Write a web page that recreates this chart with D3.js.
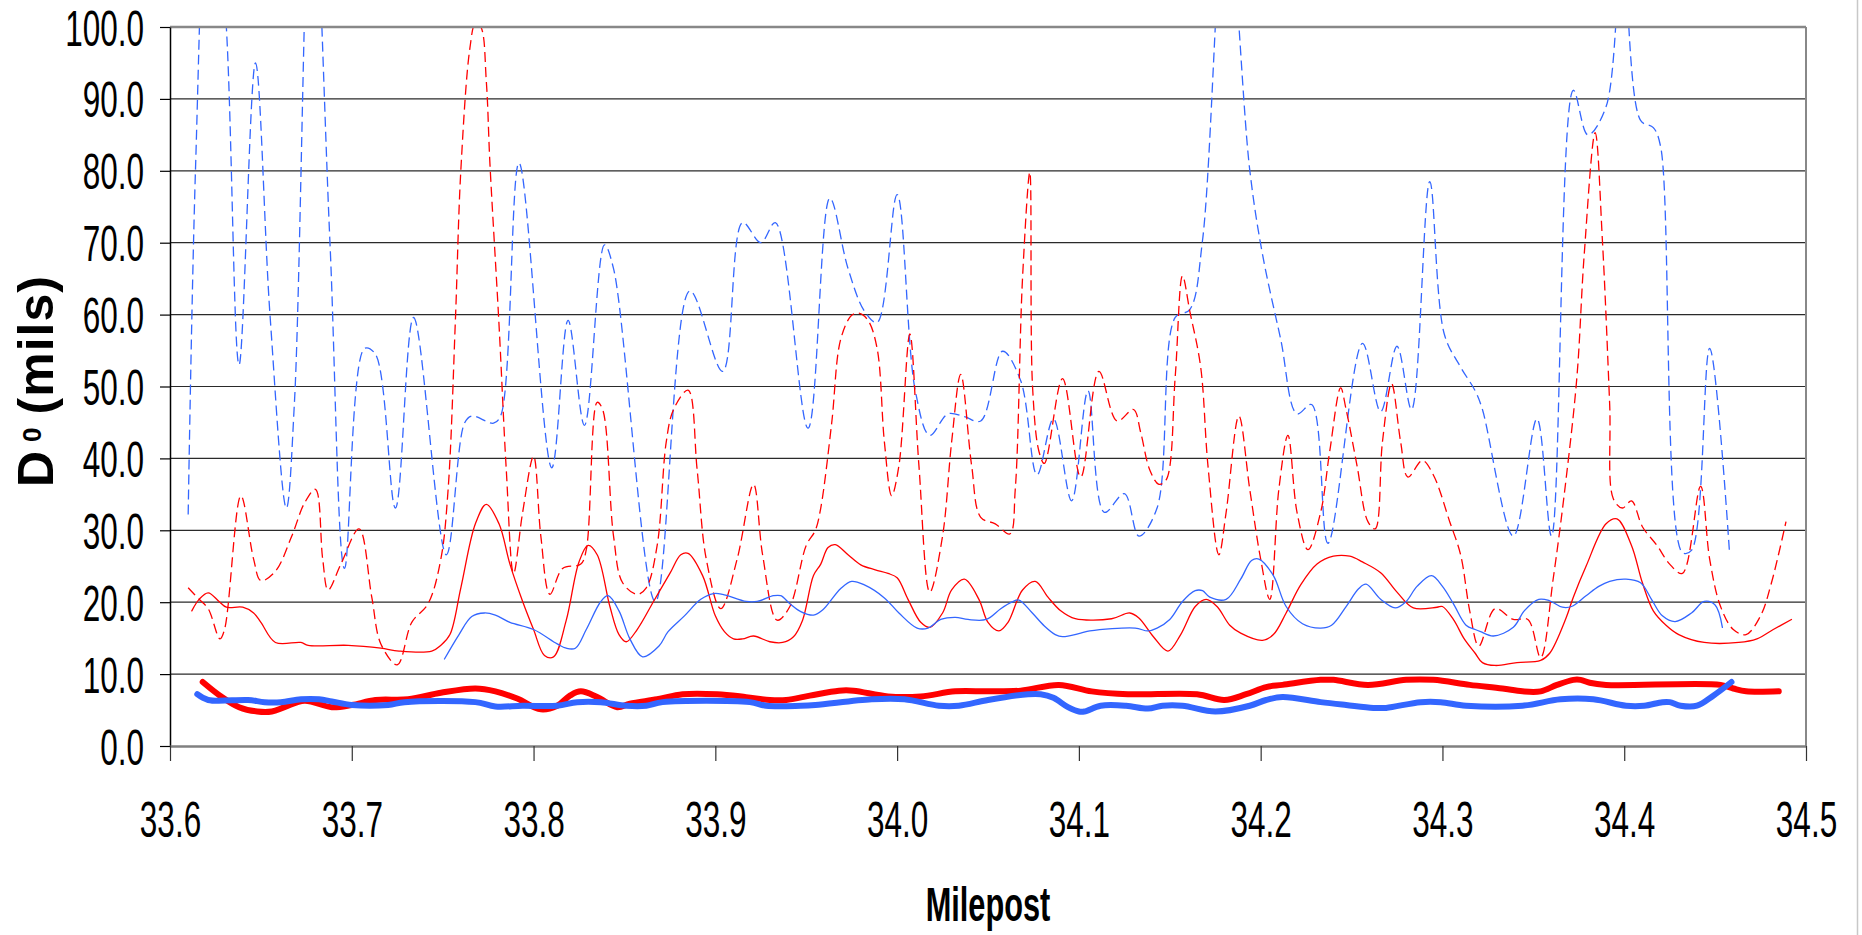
<!DOCTYPE html>
<html>
<head>
<meta charset="utf-8">
<script src="https://cdn.jsdelivr.net/npm/d3@7"></script>
<style>
    body { margin: 0; background: #fff; }
    text { font-family: "Liberation Sans", Arial, sans-serif; fill: #000; }
</style>
</head>
<body>
<div id="chart"></div>
<script>
// D0 deflection readings along the milepost, [milepost, mils]
const blueDashed = [[33.610,32.2],[33.614,80],[33.622,130],[33.631,100],[33.638,53.0],[33.647,95.0],[33.655,60],[33.664,33.1],[33.6685,48],[33.678,125],[33.688,70],[33.696,24.7],[33.707,55.3],[33.713,54.5],[33.724,33.1],[33.734,59.6],[33.752,26.6],[33.762,44.9],[33.766,45.9],[33.778,44.9],[33.782,46],[33.792,81.1],[33.810,38.7],[33.819,59.2],[33.828,44.6],[33.839,69.7],[33.844,66.4],[33.867,20.1],[33.886,63.3],[33.904,52.1],[33.915,72.8],[33.925,70.0],[33.933,72.8],[33.951,44.2],[33.963,76.2],[33.973,66.4],[33.982,60.5],[33.989,58.9],[34.000,76.7],[34.010,49.4],[34.018,43.2],[34.028,46.2],[34.037,45.8],[34.046,45.2],[34.058,54.9],[34.068,50.8],[34.077,37.7],[34.086,45.5],[34.096,34.1],[34.105,49.4],[34.114,32.5],[34.125,35.1],[34.133,29.2],[34.143,33.1],[34.153,59.6],[34.161,60.7],[34.168,70.3],[34.181,118],[34.194,80.1],[34.201,68.4],[34.211,56.6],[34.220,46.2],[34.228,47.5],[34.237,28.2],[34.256,56.0],[34.266,46.5],[34.275,55.6],[34.283,46.8],[34.293,78.5],[34.301,57.3],[34.310,52.7],[34.318,49.4],[34.322,46.8],[34.339,29.2],[34.352,45.5],[34.360,29.2],[34.372,91.2],[34.380,85.0],[34.390,88.9],[34.399,110],[34.409,87.0],[34.416,86.0],[34.420,83.4],[34.432,26.9],[34.437,27.2],[34.447,55.3],[34.458,26.6]];

const redDashed = [[33.610,22.0],[33.616,20.4],[33.621,19.1],[33.6275,14.9],[33.630,16.2],[33.639,34.8],[33.646,26.0],[33.650,23.0],[33.658,24.3],[33.667,29.2],[33.674,33.8],[33.680,35.7],[33.684,26.0],[33.687,21.7],[33.694,25.3],[33.704,30.2],[33.711,20.7],[33.716,14.2],[33.725,11.3],[33.733,17.2],[33.742,19.8],[33.749,26.0],[33.753,35.7],[33.757,59.2],[33.760,80.1],[33.765,97.1],[33.768,100.5],[33.771,100],[33.774,92.5],[33.776,81],[33.781,58.6],[33.785,38.4],[33.789,24.0],[33.794,32.5],[33.800,40.3],[33.804,29.2],[33.809,21.1],[33.816,24.7],[33.826,25.3],[33.829,27.3],[33.835,47.8],[33.838,46.8],[33.844,29.2],[33.849,22.7],[33.857,21.1],[33.862,22.0],[33.868,27.9],[33.873,42.3],[33.877,46.8],[33.885,49.5],[33.890,38.4],[33.895,26.0],[33.903,19.1],[33.912,26.0],[33.921,36.4],[33.926,26.6],[33.934,17.5],[33.941,19.4],[33.950,27.9],[33.955,30],[33.958,33.1],[33.964,44.9],[33.969,56.6],[33.975,59.9],[33.979,60.2],[33.984,59.2],[33.989,55.3],[33.993,42.3],[33.997,34.8],[34.001,39.0],[34.007,57.3],[34.012,39.0],[34.018,21.4],[34.025,29.2],[34.030,42.3],[34.035,51.7],[34.041,39.0],[34.046,31.8],[34.054,30.9],[34.062,29.5],[34.065,35.7],[34.069,65.1],[34.073,79.8],[34.0745,50],[34.078,41.0],[34.081,39.3],[34.091,51.1],[34.101,37.4],[34.111,52.1],[34.121,45.2],[34.130,46.8],[34.134,43.6],[34.139,38.4],[34.144,36.4],[34.148,37],[34.153,51.4],[34.157,65.4],[34.161,60.5],[34.167,52.7],[34.171,39.0],[34.177,26.6],[34.181,32.5],[34.188,45.9],[34.194,35.7],[34.200,26.0],[34.205,20.4],[34.210,35.7],[34.215,43.2],[34.220,32.5],[34.226,27.3],[34.233,32.5],[34.238,41.0],[34.244,49.8],[34.247,46.8],[34.253,39.0],[34.259,31.2],[34.263,30.2],[34.267,42.3],[34.272,50.4],[34.277,42.3],[34.281,37.4],[34.289,39.7],[34.295,37.7],[34.304,31.2],[34.310,26.6],[34.315,18.8],[34.320,13.9],[34.329,19.1],[34.339,17.6],[34.347,17.6],[34.354,12.3],[34.361,23.4],[34.368,37.1],[34.374,51.4],[34.378,68.4],[34.384,85.3],[34.388,70.3],[34.392,47.5],[34.394,34.4],[34.399,33.1],[34.404,34.1],[34.410,30.5],[34.418,27.9],[34.425,25.3],[34.432,24.0],[34.442,36.1],[34.447,26.0],[34.453,19.4],[34.460,16.2],[34.467,15.5],[34.475,18.1],[34.481,22.7],[34.489,31.2]];

const redSolid = [[33.612,18.8],[33.616,20.4],[33.621,21.3],[33.627,20.1],[33.631,19.3],[33.640,19.3],[33.646,18.5],[33.650,17.2],[33.658,14.4],[33.672,14.4],[33.676,14.0],[33.698,14.0],[33.716,13.6],[33.726,13.2],[33.744,13.2],[33.749,14.0],[33.754,15.5],[33.760,22.0],[33.768,30.9],[33.774,33.6],[33.781,30.9],[33.787,25.3],[33.794,20.1],[33.800,16.2],[33.806,12.6],[33.811,12.4],[33.818,17.5],[33.825,25.6],[33.830,27.9],[33.835,26.6],[33.842,19.4],[33.847,15.5],[33.851,14.5],[33.857,16.2],[33.866,20.1],[33.875,24.0],[33.881,26.6],[33.885,26.8],[33.893,23.7],[33.900,18.1],[33.905,15.9],[33.910,14.9],[33.915,14.9],[33.921,15.3],[33.930,14.5],[33.937,14.4],[33.943,15.2],[33.948,17.5],[33.954,23.7],[33.958,25.3],[33.962,27.6],[33.966,28.0],[33.973,26.6],[33.980,25.2],[33.988,24.5],[33.995,24.0],[34.000,23.4],[34.006,20.4],[34.013,17.2],[34.018,16.5],[34.025,18.5],[34.030,21.7],[34.037,23.2],[34.045,20.4],[34.050,17.2],[34.056,16.0],[34.061,17.2],[34.069,21.7],[34.076,22.9],[34.083,20.7],[34.090,18.8],[34.098,17.7],[34.118,17.7],[34.128,18.5],[34.133,17.8],[34.141,15.2],[34.149,13.2],[34.156,15.5],[34.164,19.4],[34.170,20.4],[34.176,19.4],[34.183,16.8],[34.189,15.7],[34.201,14.7],[34.207,15.5],[34.214,18.5],[34.222,22.4],[34.231,25.3],[34.240,26.4],[34.249,26.4],[34.256,25.6],[34.266,24.1],[34.275,21.4],[34.284,19.2],[34.297,19.3],[34.300,19.4],[34.306,17.6],[34.312,14.9],[34.318,12.9],[34.322,11.6],[34.329,11.2],[34.341,11.6],[34.354,11.9],[34.359,12.9],[34.368,17.8],[34.372,20.7],[34.379,25.0],[34.390,30.9],[34.396,31.6],[34.404,27.9],[34.410,22.7],[34.416,18.8],[34.423,16.8],[34.430,15.5],[34.444,14.4],[34.463,14.4],[34.473,14.9],[34.482,16.2],[34.492,17.6]];

const blueSolid = [[33.751,12.1],[33.759,15.5],[33.766,18.0],[33.773,18.5],[33.779,18.2],[33.787,17.2],[33.800,16.2],[33.813,14.2],[33.818,13.6],[33.823,13.6],[33.829,16.2],[33.837,20.1],[33.841,20.9],[33.847,18.8],[33.853,14.9],[33.860,12.4],[33.869,13.9],[33.874,15.9],[33.883,18.1],[33.892,20.4],[33.899,21.2],[33.904,21.1],[33.917,20.1],[33.923,20.1],[33.932,20.9],[33.936,20.9],[33.941,19.8],[33.947,18.7],[33.954,18.2],[33.959,18.9],[33.969,21.9],[33.975,22.9],[33.982,22.4],[33.993,20.6],[34.001,18.5],[34.011,16.4],[34.017,16.4],[34.024,17.6],[34.032,17.9],[34.039,17.6],[34.049,17.6],[34.057,19.1],[34.063,20.0],[34.067,20.3],[34.074,18.6],[34.081,16.7],[34.087,15.5],[34.091,15.2],[34.101,15.7],[34.106,16.0],[34.131,16.4],[34.138,16.0],[34.143,16.4],[34.150,17.6],[34.157,20.1],[34.164,21.6],[34.168,21.6],[34.172,20.7],[34.181,20.4],[34.189,23.2],[34.195,25.8],[34.199,26.0],[34.207,23.7],[34.214,19.4],[34.223,17.0],[34.233,16.4],[34.239,16.8],[34.247,19.4],[34.254,21.9],[34.258,22.5],[34.266,20.4],[34.274,19.2],[34.280,20.1],[34.286,22.2],[34.294,23.7],[34.300,22.2],[34.306,19.8],[34.313,16.8],[34.318,16.2],[34.321,15.9],[34.328,15.3],[34.339,16.5],[34.345,18.8],[34.353,20.4],[34.359,20.2],[34.366,19.3],[34.371,19.4],[34.379,20.9],[34.386,22.2],[34.392,22.9],[34.401,23.2],[34.409,22.7],[34.415,20.4],[34.421,18.1],[34.428,17.3],[34.437,18.5],[34.444,20.1],[34.450,19.6],[34.454,16.5]];

const redThick = [[33.618,8.9],[33.6275,7.0],[33.638,5.4],[33.648,4.8],[33.656,4.8],[33.663,5.4],[33.674,6.3],[33.689,5.4],[33.700,5.7],[33.713,6.4],[33.731,6.5],[33.749,7.4],[33.768,8.0],[33.779,7.6],[33.791,6.6],[33.804,5.1],[33.813,5.6],[33.820,7.0],[33.826,7.6],[33.835,6.8],[33.846,5.4],[33.853,5.9],[33.868,6.5],[33.882,7.2],[33.901,7.2],[33.917,6.8],[33.930,6.4],[33.939,6.4],[33.952,7.0],[33.968,7.7],[33.976,7.7],[33.995,6.9],[34.013,6.9],[34.032,7.6],[34.050,7.6],[34.068,7.7],[34.089,8.5],[34.107,7.6],[34.127,7.2],[34.165,7.2],[34.180,6.4],[34.192,7.2],[34.203,8.2],[34.212,8.5],[34.233,9.2],[34.240,9.2],[34.259,8.5],[34.280,9.2],[34.295,9.2],[34.315,8.5],[34.333,8.0],[34.344,7.6],[34.354,7.6],[34.363,8.5],[34.372,9.2],[34.376,9.2],[34.381,8.8],[34.390,8.5],[34.453,8.5],[34.460,8.0],[34.467,7.6],[34.485,7.6]];

const blueThick = [[33.615,7.2],[33.621,6.4],[33.643,6.4],[33.652,6.1],[33.661,6.1],[33.672,6.5],[33.682,6.5],[33.689,6.2],[33.700,5.7],[33.720,5.7],[33.729,6.1],[33.768,6.1],[33.779,5.5],[33.794,5.6],[33.813,5.6],[33.824,6.1],[33.837,6.1],[33.851,5.6],[33.862,5.6],[33.871,6.1],[33.919,6.1],[33.928,5.6],[33.947,5.6],[33.955,5.7],[33.986,6.5],[34.004,6.5],[34.023,5.6],[34.034,5.6],[34.050,6.4],[34.072,7.2],[34.079,7.2],[34.086,6.7],[34.094,5.4],[34.100,4.8],[34.103,4.8],[34.112,5.6],[34.126,5.6],[34.138,5.2],[34.146,5.6],[34.157,5.6],[34.175,4.8],[34.194,5.6],[34.203,6.4],[34.212,6.8],[34.233,6.1],[34.247,5.7],[34.262,5.3],[34.269,5.3],[34.288,6.1],[34.299,6.1],[34.313,5.6],[34.344,5.6],[34.365,6.5],[34.383,6.5],[34.401,5.6],[34.411,5.6],[34.421,6.1],[34.425,6.1],[34.431,5.6],[34.440,5.6],[34.449,7.0],[34.459,8.9]];

const xTicks = [33.6, 33.7, 33.8, 33.9, 34.0, 34.1, 34.2, 34.3, 34.4, 34.5];
const yTicks = [0, 10, 20, 30, 40, 50, 60, 70, 80, 90, 100];

const red = "#ff0000", blue = "#3366ff";
const series = [
    { data: blueDashed, color: blue, width: 1.3, dash: "10,5" },
    { data: redDashed, color: red, width: 1.3, dash: "10,5" },
    { data: redSolid, color: red, width: 1.3, dash: null },
    { data: blueSolid, color: blue, width: 1.3, dash: null },
    { data: redThick, color: red, width: 6, dash: null },
    { data: blueThick, color: blue, width: 6, dash: null }
];

const W = 1862, H = 935;
const plot = { left: 170, right: 1806, top: 27, bottom: 746 };
const squeeze = 0.63; // the original labels are narrow and tall

const svg = d3.select("#chart")
    .append("svg")
    .attr("width", W)
    .attr("height", H);

const x = d3.scaleLinear().domain([33.6, 34.5]).range([plot.left, plot.right]);
const y = d3.scaleLinear().domain([0, 100]).range([plot.bottom, plot.top]);

// horizontal gridlines
svg.append("g")
    .selectAll("line")
    .data(yTicks.filter(d => d > 0 && d < 100))
    .join("line")
    .attr("x1", plot.left).attr("x2", plot.right)
    .attr("y1", d => y(d)).attr("y2", d => y(d))
    .attr("stroke", "#2a2a2a")
    .attr("stroke-width", 1.2);

svg.append("clipPath")
    .attr("id", "plot-clip")
    .append("rect")
    .attr("x", plot.left).attr("y", plot.top)
    .attr("width", plot.right - plot.left)
    .attr("height", plot.bottom - plot.top);

const line = d3.line()
    .x(d => x(d[0]))
    .y(d => y(d[1]))
    .curve(d3.curveCatmullRom.alpha(0.5));

svg.append("g")
    .attr("clip-path", "url(#plot-clip)")
    .selectAll("path")
    .data(series)
    .join("path")
    .attr("d", d => line(d.data))
    .attr("fill", "none")
    .attr("stroke", d => d.color)
    .attr("stroke-width", d => d.width)
    .attr("stroke-dasharray", d => d.dash)
    .attr("stroke-linejoin", "round")
    .attr("stroke-linecap", d => d.dash ? "butt" : "round");

// plot frame: top and right edges
svg.append("line")
    .attr("x1", plot.left).attr("x2", plot.right)
    .attr("y1", plot.top).attr("y2", plot.top)
    .attr("stroke", "#888").attr("stroke-width", 2.5);
svg.append("line")
    .attr("x1", plot.right).attr("x2", plot.right)
    .attr("y1", plot.top).attr("y2", plot.bottom)
    .attr("stroke", "#888").attr("stroke-width", 2);

// outer chart border on the right
svg.append("line")
    .attr("x1", 1857.5).attr("x2", 1857.5)
    .attr("y1", 0).attr("y2", H)
    .attr("stroke", "#c8c8c8").attr("stroke-width", 1.5);

// y axis
const yAxis = svg.append("g")
    .attr("transform", `translate(${plot.left},0)`)
    .call(d3.axisLeft(y)
        .tickValues(yTicks)
        .tickFormat(d3.format(".1f"))
        .tickSize(10)
        .tickSizeOuter(0));
yAxis.select(".domain").attr("stroke", "#000").attr("stroke-width", 1.5);
yAxis.selectAll(".tick line").attr("stroke", "#000").attr("stroke-width", 1.2);
yAxis.selectAll(".tick text")
    .attr("font-size", 50)
    .attr("font-family", "'Liberation Sans', Arial, sans-serif")
    .attr("x", -26 / squeeze)
    .attr("dy", "0.36em")
    .attr("transform", `scale(${squeeze},1)`);

// x axis
const xAxis = svg.append("g")
    .attr("transform", `translate(0,${plot.bottom})`)
    .call(d3.axisBottom(x)
        .tickValues(xTicks)
        .tickFormat(d3.format(".1f"))
        .tickSize(15)
        .tickSizeOuter(0));
xAxis.select(".domain").attr("stroke", "#808080").attr("stroke-width", 2.5);
xAxis.selectAll(".tick line").attr("stroke", "#333").attr("stroke-width", 1.2);
xAxis.selectAll(".tick text")
    .attr("font-size", 50)
    .attr("font-family", "'Liberation Sans', Arial, sans-serif")
    .attr("y", 73)
    .attr("dy", "0.36em")
    .attr("transform", `scale(${squeeze},1)`);

// axis titles
svg.append("text")
    .attr("transform", `translate(988,921) scale(0.64,1)`)
    .attr("text-anchor", "middle")
    .attr("font-size", 48)
    .attr("font-weight", "bold")
    .text("Milepost");

const yTitle = svg.append("text")
    .attr("transform", "translate(53,487) rotate(-90)")
    .attr("text-anchor", "start")
    .attr("font-size", 50)
    .attr("font-weight", "bold")
    .attr("letter-spacing", 1);
yTitle.append("tspan").text("D");
yTitle.append("tspan").attr("font-size", 26).attr("dy", -12).attr("dx", 8).text("0");
yTitle.append("tspan").attr("dy", 12).attr("dx", 12).text("(mils)");
</script>
</body>
</html>
